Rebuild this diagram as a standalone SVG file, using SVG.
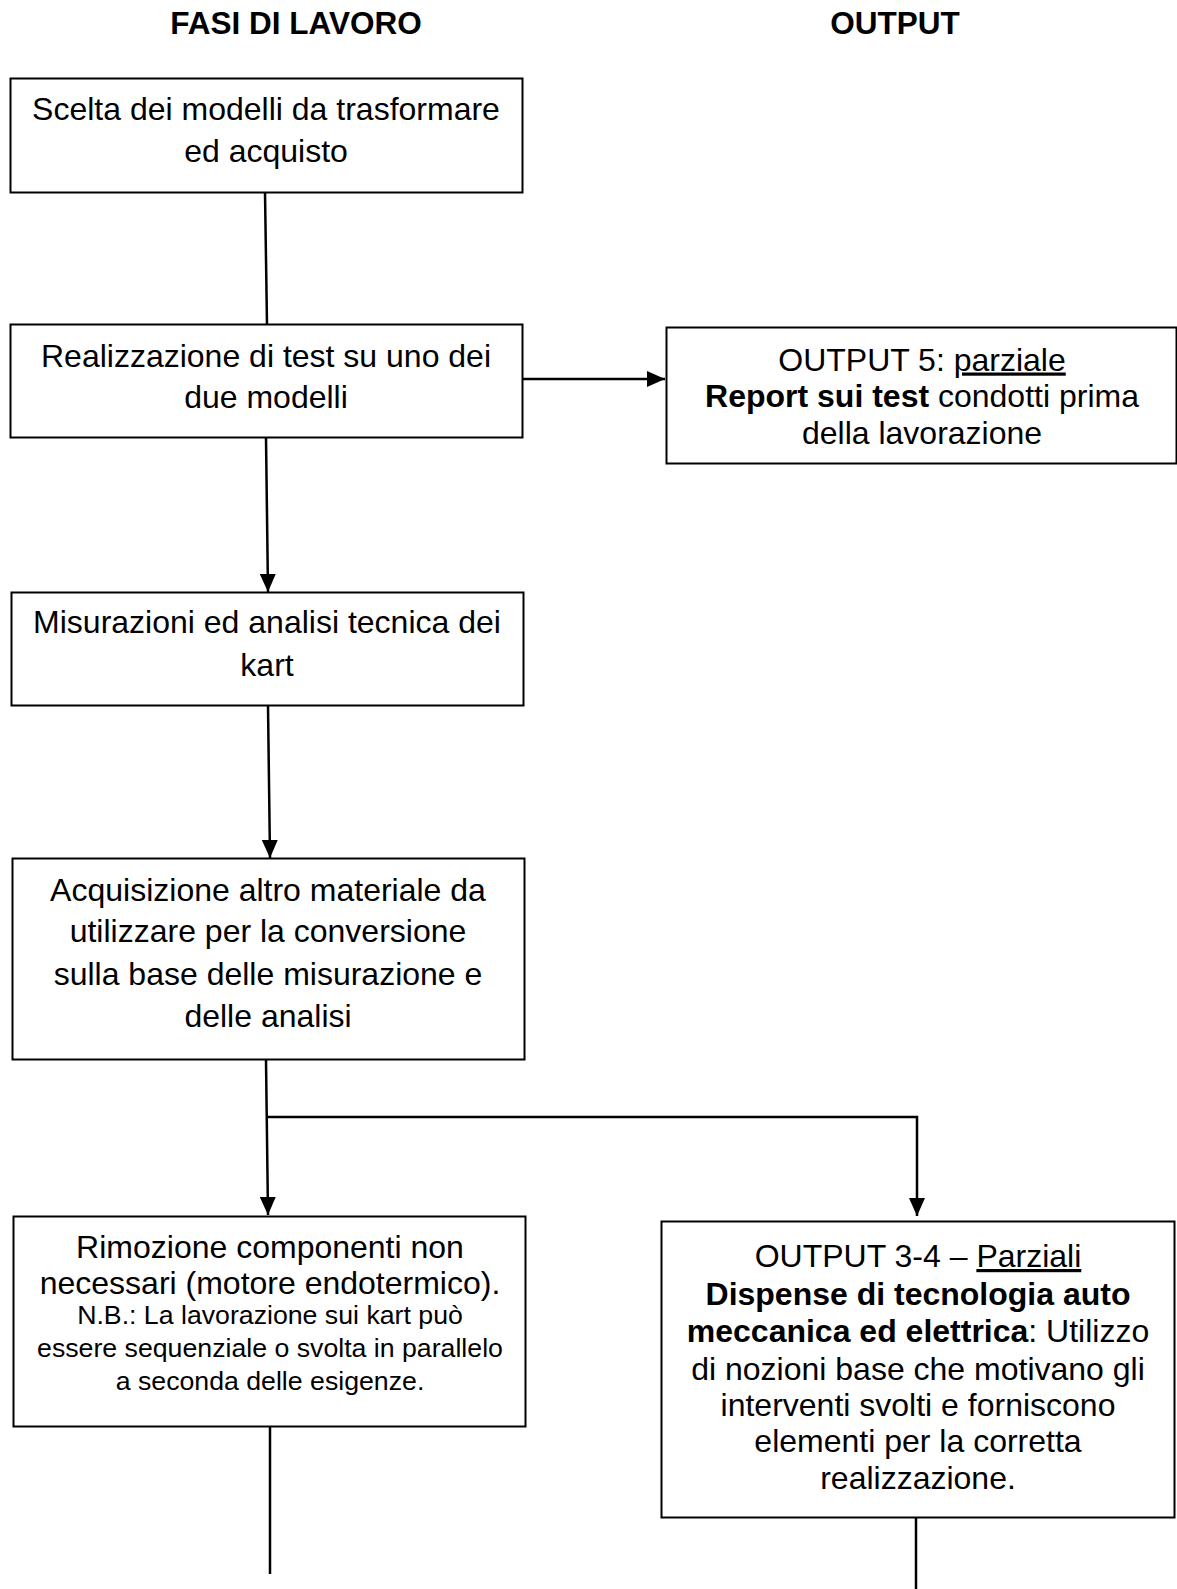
<svg xmlns="http://www.w3.org/2000/svg" width="1177" height="1589" viewBox="0 0 1177 1589">
<defs>
<style>
.box{fill:#fff;stroke:#000;stroke-width:2}
.t{font-family:"Liberation Sans",Arial,sans-serif;font-size:32px;fill:#000;text-anchor:middle}
.s{font-size:26.7px}
.h{font-family:"Liberation Sans",Arial,sans-serif;font-size:31.5px;font-weight:bold;fill:#000;text-anchor:middle}
.b{font-weight:bold}
.u{text-decoration:underline}
.c{fill:none;stroke:#000;stroke-width:2.5}
</style>
<marker id="ah" markerUnits="userSpaceOnUse" markerWidth="18" markerHeight="16" viewBox="0 0 18 16" refX="18" refY="8" orient="auto">
<path d="M0,0 L18,8 L0,16 Z" fill="#000"/>
</marker>
</defs>
<rect width="1177" height="1589" fill="#fff"/>
<g id="headers">
<text class="h" x="296" y="34">FASI DI LAVORO</text>
<text class="h" x="895" y="34">OUTPUT</text>
</g>
<g id="connectors">
<line class="c" x1="265" y1="192" x2="267" y2="325"/>
<line class="c" x1="266" y1="438" x2="268" y2="592" marker-end="url(#ah)"/>
<line class="c" x1="268" y1="706" x2="270" y2="858" marker-end="url(#ah)"/>
<line class="c" x1="523" y1="379" x2="665" y2="379" marker-end="url(#ah)"/>
<line class="c" x1="266" y1="1060" x2="268" y2="1215" marker-end="url(#ah)"/>
<polyline class="c" points="266,1117 917,1117 917,1216" marker-end="url(#ah)"/>
<line class="c" x1="270" y1="1427" x2="270" y2="1574"/>
<line class="c" x1="916" y1="1517" x2="916" y2="1589"/>
</g>
<g id="n1">
<rect class="box" x="10.5" y="78.5" width="512" height="114"/>
<text class="t" x="266" y="120">Scelta dei modelli da trasformare</text>
<text class="t" x="266" y="161.5">ed acquisto</text>
</g>
<g id="n2">
<rect class="box" x="10.5" y="324.5" width="512" height="113"/>
<text class="t" x="266" y="366.5">Realizzazione di test su uno dei</text>
<text class="t" x="266" y="408">due modelli</text>
</g>
<g id="out5">
<rect class="box" x="666.5" y="327.5" width="510" height="136"/>
<text class="t" x="922" y="370.5">OUTPUT 5: <tspan class="u">parziale</tspan></text>
<text class="t" x="922" y="407"><tspan class="b">Report sui test</tspan> condotti prima</text>
<text class="t" x="922" y="443.5">della lavorazione</text>
</g>
<g id="n3">
<rect class="box" x="11.5" y="592.5" width="512" height="113"/>
<text class="t" x="267" y="633">Misurazioni ed analisi tecnica dei</text>
<text class="t" x="267" y="675.5">kart</text>
</g>
<g id="n4">
<rect class="box" x="12.5" y="858.5" width="512" height="201"/>
<text class="t" x="268" y="900.5">Acquisizione altro materiale da</text>
<text class="t" x="268" y="942">utilizzare per la conversione</text>
<text class="t" x="268" y="984.5">sulla base delle misurazione e</text>
<text class="t" x="268" y="1027">delle analisi</text>
</g>
<g id="n5">
<rect class="box" x="13.5" y="1216.5" width="512" height="210"/>
<text class="t" x="270" y="1257.5">Rimozione componenti non</text>
<text class="t" x="270" y="1294">necessari (motore endotermico).</text>
<text class="t s" x="270" y="1323.5">N.B.: La lavorazione sui kart può</text>
<text class="t s" x="270" y="1356.5">essere sequenziale o svolta in parallelo</text>
<text class="t s" x="270" y="1389.5">a seconda delle esigenze.</text>
</g>
<g id="out34">
<rect class="box" x="661.5" y="1221.5" width="513" height="296"/>
<text class="t" x="918" y="1267">OUTPUT 3-4 – <tspan class="u">Parziali</tspan></text>
<text class="t b" x="918" y="1304.5">Dispense di tecnologia auto</text>
<text class="t" x="918" y="1342"><tspan class="b">meccanica ed elettrica</tspan>: Utilizzo</text>
<text class="t" x="918" y="1379.5">di nozioni base che motivano gli</text>
<text class="t" x="918" y="1416">interventi svolti e forniscono</text>
<text class="t" x="918" y="1452">elementi per la corretta</text>
<text class="t" x="918" y="1489">realizzazione.</text>
</g>
</svg>
